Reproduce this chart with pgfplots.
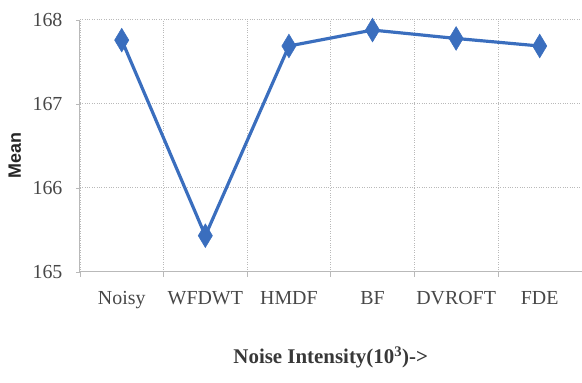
\documentclass[border=0pt]{standalone}
\usepackage{fontspec}
\setmainfont{Liberation Serif}
\setsansfont{Liberation Sans}
\usepackage{pgfplots}
\pgfplotsset{compat=1.18}
\definecolor{lineblue}{RGB}{58,110,190}
\definecolor{gridgray}{RGB}{185,185,185}
\begin{document}
\begin{tikzpicture}[x=1bp,y=1bp]
\begin{axis}[
  scale only axis,
  width=502bp, height=252bp,
  xmin=-0.5, xmax=5.5,
  ymin=165, ymax=168,
  xtick={0,1,2,3,4,5},
  xticklabels={Noisy,WFDWT,HMDF,BF,DVROFT,FDE},
  major x tick style={draw=none},
  minor xtick={-0.5,0.5,1.5,2.5,3.5,4.5},
  minor x tick style={draw=gridgray, line width=0.8pt},
  minor tick length=5bp,
  xminorgrids=true,
  minor x grid style={gridgray, dotted, line width=0.8pt},
  ytick={165,166,167,168},
  ymajorgrids=true,
  major y grid style={gridgray, dotted, line width=1pt},
  y tick style={draw=gridgray},
  major tick length=4bp,
  axis x line*=bottom,
  axis y line*=left,
  axis line style={draw=gridgray, line width=1pt, -},
  tick align=outside,
  /pgf/number format/assume math mode=true,
  ticklabel style={font=\fontsize{20}{22}\selectfont, text=black!72},
  xticklabel style={yshift=-12bp},
  yticklabel style={xshift=-10bp},
  xlabel={Noise Intensity(10\textsuperscript{3})->},
  xlabel style={at={(axis description cs:0.5,-0.34)}, anchor=center, font=\fontsize{21}{23}\bfseries\selectfont, text=black!78},
  ylabel={Mean},
  ylabel style={at={(axis description cs:-0.13,0.46)}, anchor=center, font=\sffamily\bfseries\fontsize{18}{20}\selectfont, text=black!85},
  clip=false,
]
\addplot[lineblue, line width=3.2pt, mark=diamond*, mark size=9.5bp,
  mark options={solid, fill=lineblue, draw=lineblue, line width=0.5pt, yscale=1.25}]
  coordinates {(0,167.76) (1,165.43) (2,167.69) (3,167.88) (4,167.78) (5,167.69)};
\end{axis}
\useasboundingbox (-80bp,-111bp) rectangle (502bp,272bp);
\end{tikzpicture}
\end{document}
